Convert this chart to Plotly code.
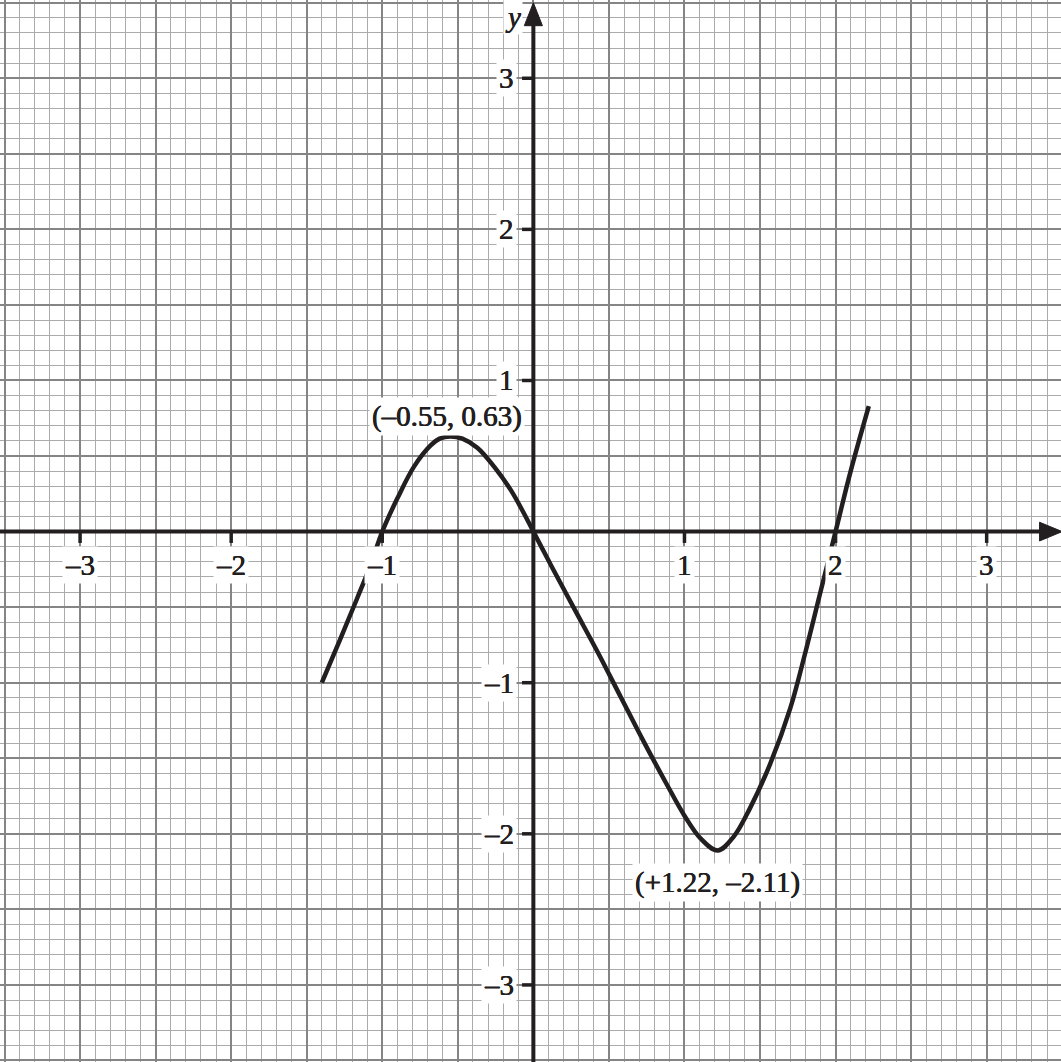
import plotly.graph_objects as go

# Curve y = f(x), sampled along the drawn graph
curve_x = [-1.40, -1.276, -1.166, -1.077, -1.00, -0.90, -0.79, -0.68, -0.62, -0.55,
           -0.47, -0.371, -0.26, -0.15, -0.062, 0.00, 0.12, 0.273, 0.427, 0.58,
           0.733, 0.887, 1.00, 1.106, 1.22, 1.325, 1.434, 1.566, 1.70, 1.80,
           1.90, 2.00, 2.10, 2.22]
curve_y = [-1.00, -0.706, -0.441, -0.22, 0.00, 0.22, 0.43, 0.57, 0.615, 0.63,
           0.615, 0.555, 0.43, 0.276, 0.12, 0.00, -0.229, -0.515, -0.80, -1.098,
           -1.395, -1.68, -1.88, -2.03, -2.11, -2.02, -1.83, -1.54, -1.17, -0.80,
           -0.40, 0.00, 0.40, 0.83]

# Turning points and their labels
turn_x = [-0.55, 1.22]
turn_y = [0.63, -2.11]
turn_labels = ["(–0.55, 0.63)", "(+1.22, –2.11)"]
turn_yshift = [20, -32]
turn_xshift = [-3, 0]

# Axis ticks
x_ticks = [-3, -2, -1, 1, 2, 3]
x_tick_labels = ["–3", "–2", "–1", "1", "2", "3"]
y_ticks = [-3, -2, -1, 1, 2, 3]
y_tick_labels = ["–3", "–2", "–1", "1", "2", "3"]

INK = "#231f20"
FONT = "Liberation Serif, Times New Roman, serif"
FS = 29
# a faint halo thickens the thin serif strokes a little
TEXT_FONT = dict(family=FONT, size=FS, color=INK,
                 shadow="0.35px 0 0 #231f20, -0.35px 0 0 #231f20")

fig = go.Figure()

fig.add_trace(go.Scatter(
    x=curve_x, y=curve_y, mode="lines",
    line=dict(color=INK, width=4.5, shape="spline", smoothing=1.0),
    hoverinfo="skip", showlegend=False,
))

shapes = []
# Coordinate axes
shapes.append(dict(type="line", xref="x", yref="y", x0=-3.7, y0=0, x1=3.37, y1=0,
                   line=dict(color=INK, width=4), layer="above"))
shapes.append(dict(type="line", xref="x", yref="y", x0=0, y0=-3.7, x1=0, y1=3.37,
                   line=dict(color=INK, width=4), layer="above"))
# Arrowheads
shapes.append(dict(type="path", xref="x", yref="y",
                   path="M 3.35,-0.062 L 3.5,0 L 3.35,0.062 Z",
                   fillcolor=INK, line=dict(color=INK, width=1), layer="above"))
shapes.append(dict(type="path", xref="x", yref="y",
                   path="M -0.06,3.348 L 0,3.5 L 0.06,3.348 Z",
                   fillcolor=INK, line=dict(color=INK, width=1), layer="above"))
# Tick marks
for t in x_ticks:
    shapes.append(dict(type="line", xref="x", yref="y", x0=t, y0=0, x1=t, y1=-0.075,
                       line=dict(color=INK, width=3.5), layer="above"))
for t in y_ticks:
    shapes.append(dict(type="line", xref="x", yref="y", x0=0, y0=t, x1=-0.075, y1=t,
                       line=dict(color=INK, width=3.5), layer="above"))

annotations = []
for t, lab in zip(x_ticks, x_tick_labels):
    annotations.append(dict(x=t, y=0, xref="x", yref="y", text=lab, showarrow=False,
                            xanchor="center", yanchor="middle", yshift=-33,
                            bgcolor="white", borderpad=2, font=TEXT_FONT))
for t, lab in zip(y_ticks, y_tick_labels):
    annotations.append(dict(x=0, y=t, xref="x", yref="y", text=lab, showarrow=False,
                            xanchor="right", yanchor="middle", xshift=-16,
                            bgcolor="white", borderpad=2, font=TEXT_FONT))
for tx, ty, lab, ys, xs in zip(turn_x, turn_y, turn_labels, turn_yshift, turn_xshift):
    annotations.append(dict(x=tx, y=ty, xref="x", yref="y", text=lab, showarrow=False,
                            xanchor="center", yanchor="middle", yshift=ys, xshift=xs,
                            bgcolor="white", borderpad=2, font=TEXT_FONT))
# Axis names
annotations.append(dict(x=0, y=3.5, xref="x", yref="y", text="<i>y</i>", showarrow=False,
                        xanchor="center", yanchor="middle", xshift=-20, yshift=-14,
                        bgcolor="white", borderpad=1, font=TEXT_FONT))
annotations.append(dict(x=3.5, y=0, xref="x", yref="y", text="<i>x</i>", showarrow=False,
                        xanchor="center", yanchor="middle", xshift=-12, yshift=-22,
                        bgcolor="white", borderpad=1, font=TEXT_FONT))

grid_major = dict(showgrid=True, dtick=0.5, tick0=0, gridcolor="#858585", gridwidth=2,
                  minor=dict(dtick=0.1, tick0=0, showgrid=True,
                             gridcolor="#ababab", gridwidth=1.3),
                  showticklabels=False, ticks="", zeroline=False, showline=False,
                  fixedrange=True)

fig.update_layout(
    width=1061, height=1062,
    margin=dict(l=0, r=0, t=0, b=0),
    paper_bgcolor="white", plot_bgcolor="white",
    xaxis=dict(range=[-3.530, 3.492], **grid_major),
    yaxis=dict(range=[-3.510, 3.518], **grid_major),
    shapes=shapes, annotations=annotations,
    showlegend=False,
)

fig.write_html("out.html")
